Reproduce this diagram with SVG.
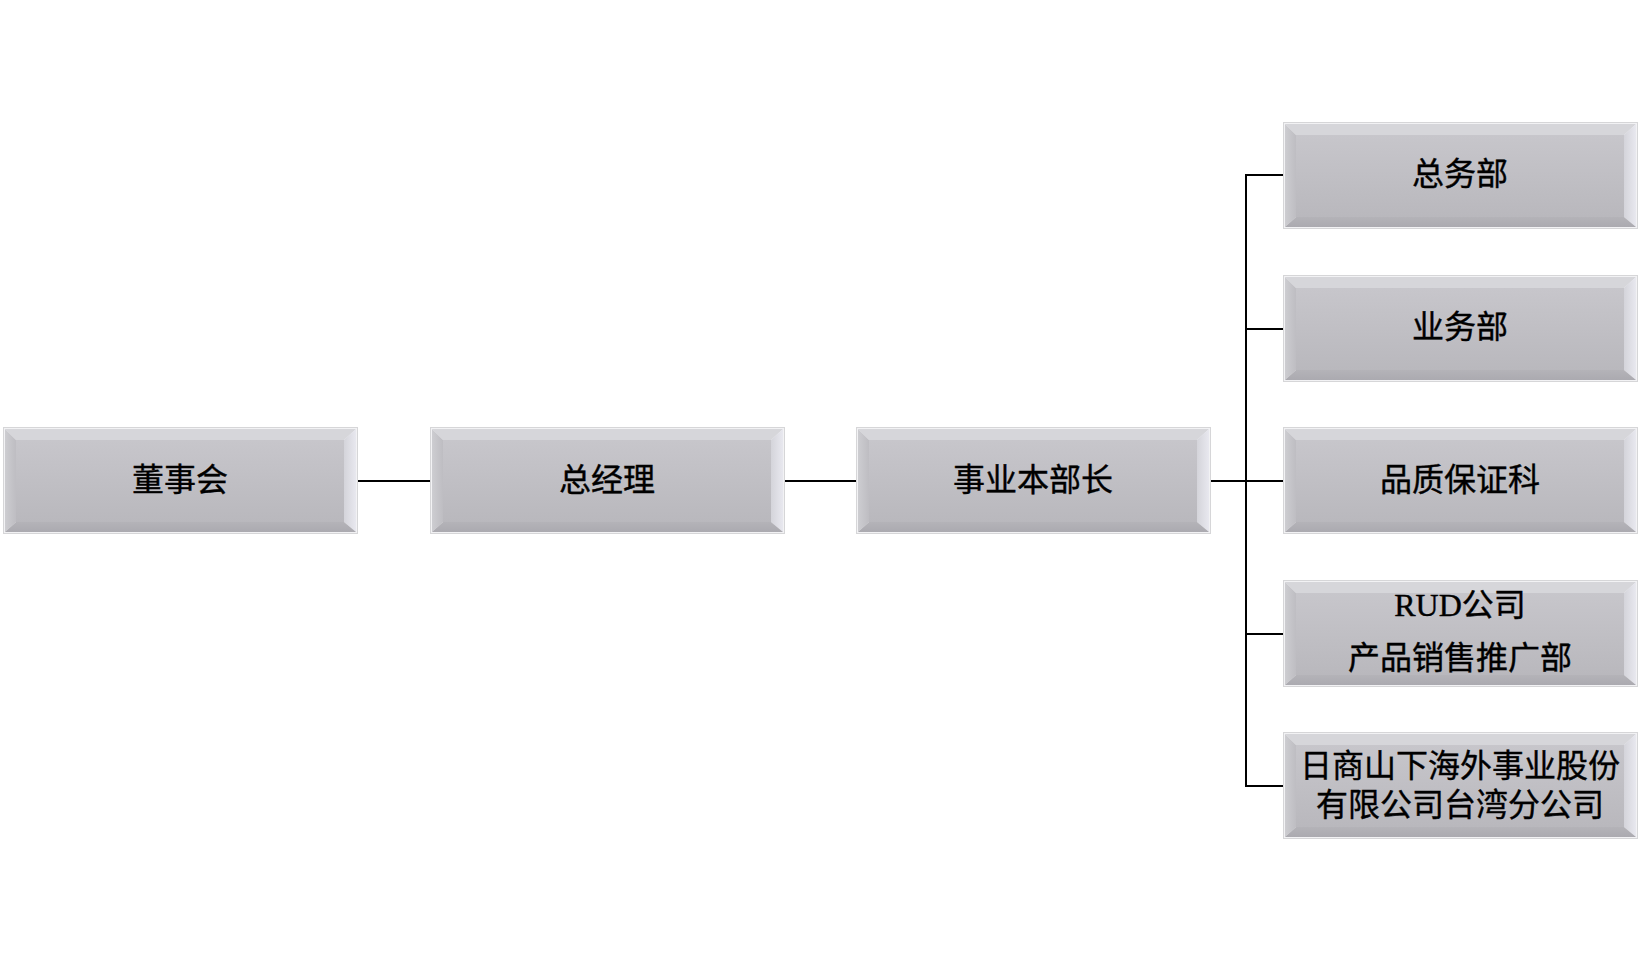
<svg xmlns="http://www.w3.org/2000/svg" width="1649" height="962" viewBox="0 0 1649 962">
<style>
.t{font-family:"Liberation Serif","Noto Sans CJK SC",serif;font-size:32px;font-weight:normal;fill:#000;stroke:#000;stroke-width:0.4;text-anchor:middle;dominant-baseline:central}
.ln{stroke:#000;stroke-width:2;fill:none}
</style>
<defs>
<linearGradient id="gc" x1="0" y1="0" x2="0" y2="1"><stop offset="0" stop-color="#c7c6cb"/><stop offset="1" stop-color="#b9b8bd"/></linearGradient>
<linearGradient id="gl" x1="0" y1="0" x2="1" y2="0"><stop offset="0" stop-color="#cdcdd1"/><stop offset="1" stop-color="#bebdc2"/></linearGradient>
<linearGradient id="gr" x1="0" y1="0" x2="1" y2="0"><stop offset="0" stop-color="#d4d4da"/><stop offset="1" stop-color="#e8e8ef"/></linearGradient>
<linearGradient id="gb" x1="0" y1="0" x2="0" y2="1"><stop offset="0" stop-color="#b4b3b8"/><stop offset="1" stop-color="#abaab0"/></linearGradient>
<g id="box">
<rect x="0" y="0" width="355" height="107" fill="#d6d6d8"/>
<rect x="1" y="1" width="353" height="105" fill="#f2f2f4"/>
<polygon points="2,2 353,2 341,13 13,13" fill="#d6d6da"/>
<polygon points="2,2 13,13 13,95 2,105" fill="url(#gl)"/>
<polygon points="353,2 353,105 341,95 341,13" fill="url(#gr)"/>
<polygon points="2,105 13,95 341,95 353,105" fill="url(#gb)"/>
<rect x="13" y="13" width="328" height="82" fill="url(#gc)"/>
</g>
</defs>
<rect width="1649" height="962" fill="#fff"/>
<g id="connectors">
<line class="ln" x1="358" y1="481" x2="431" y2="481"/>
<line class="ln" x1="783" y1="481" x2="857" y2="481"/>
<line class="ln" x1="1209" y1="481" x2="1246" y2="481" stroke-width="3"/>
<line class="ln" x1="1246" y1="174" x2="1246" y2="787"/>
<line class="ln" x1="1245" y1="175" x2="1283" y2="175"/>
<line class="ln" x1="1245" y1="329" x2="1283" y2="329"/>
<line class="ln" x1="1245" y1="481" x2="1283" y2="481"/>
<line class="ln" x1="1245" y1="634" x2="1283" y2="634"/>
<line class="ln" x1="1245" y1="786" x2="1283" y2="786"/>
</g>
<g id="n1"><use href="#box" x="3" y="427"/><text class="t" x="180" y="480">董事会</text></g>
<g id="n2"><use href="#box" x="430" y="427"/><text class="t" x="607" y="480">总经理</text></g>
<g id="n3"><use href="#box" x="856" y="427"/><text class="t" x="1033" y="480">事业本部长</text></g>
<g id="n4"><use href="#box" x="1283" y="122"/><text class="t" x="1460" y="174">总务部</text></g>
<g id="n5"><use href="#box" x="1283" y="275"/><text class="t" x="1460" y="327">业务部</text></g>
<g id="n6"><use href="#box" x="1283" y="427"/><text class="t" x="1460" y="480">品质保证科</text></g>
<g id="n7"><use href="#box" x="1283" y="580"/><text class="t" x="1460" y="605">RUD公司</text><text class="t" x="1460" y="658">产品销售推广部</text></g>
<g id="n8"><use href="#box" x="1283" y="732"/><text class="t" x="1460" y="766">日商山下海外事业股份</text><text class="t" x="1460" y="805">有限公司台湾分公司</text></g>
</svg>
